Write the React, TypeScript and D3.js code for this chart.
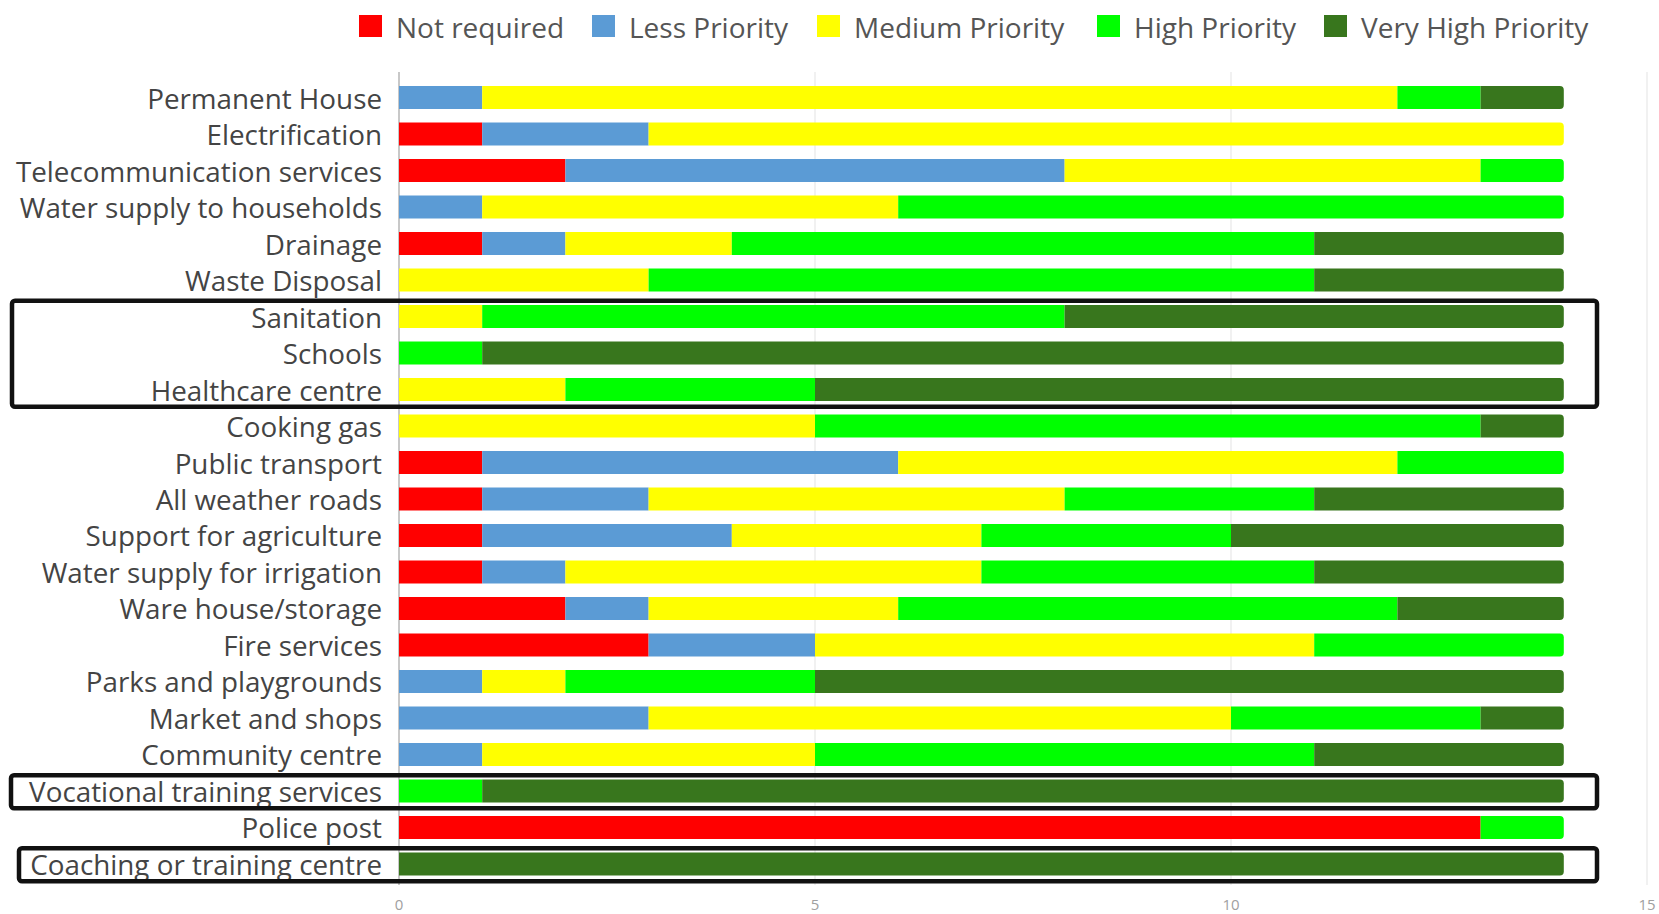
import React from "react";
import * as d3 from "d3";

const categories = [
  "Permanent House",
  "Electrification",
  "Telecommunication services",
  "Water supply to households",
  "Drainage",
  "Waste Disposal",
  "Sanitation",
  "Schools",
  "Healthcare centre",
  "Cooking gas",
  "Public transport",
  "All weather roads",
  "Support for agriculture",
  "Water supply for irrigation",
  "Ware house/storage",
  "Fire services",
  "Parks and playgrounds",
  "Market and shops",
  "Community centre",
  "Vocational training services",
  "Police post",
  "Coaching or training centre",
];

const seriesNames = ["Not required", "Less Priority", "Medium Priority", "High Priority", "Very High Priority"];
const seriesColors = ["#ff0000", "#5b9bd5", "#ffff00", "#00ff00", "#38761d"];

const notRequired = [0, 1, 2, 0, 1, 0, 0, 0, 0, 0, 1, 1, 1, 1, 2, 3, 0, 0, 0, 0, 13, 0];
const lessPriority = [1, 2, 6, 1, 1, 0, 0, 0, 0, 0, 5, 2, 3, 1, 1, 2, 1, 3, 1, 0, 0, 0];
const mediumPriority = [11, 11, 5, 5, 2, 3, 1, 0, 2, 5, 6, 5, 3, 5, 3, 6, 1, 7, 4, 0, 0, 0];
const highPriority = [1, 0, 1, 8, 7, 8, 7, 1, 3, 8, 2, 3, 3, 4, 6, 3, 3, 3, 6, 1, 1, 0];
const veryHighPriority = [1, 0, 0, 0, 3, 3, 6, 13, 9, 1, 0, 3, 4, 3, 2, 0, 9, 1, 3, 13, 0, 14];

const xTicks = [0, 5, 10, 15];

// highlighted groups of categories (annotation boxes)
const highlightGroups = [
  ["Sanitation", "Schools", "Healthcare centre"],
  ["Vocational training services"],
  ["Coaching or training centre"],
];
const highlightLeft = [12, 11, 19];

const W = 1659;
const H = 914;

function roundedRight(x: number, y: number, w: number, h: number, r: number) {
  const rr = Math.min(r, w / 2, h / 2);
  return `M${x},${y}H${x + w - rr}Q${x + w},${y} ${x + w},${y + rr}V${y + h - rr}Q${x + w},${y + h} ${x + w - rr},${y + h}H${x}Z`;
}

export default function App() {
  const series = [notRequired, lessPriority, mediumPriority, highPriority, veryHighPriority];
  const x = d3.scaleLinear().domain([0, 15]).range([399, 1647]);
  const y = d3.scaleBand<string>().domain(categories).range([72.5, 889]).padding(0.37);
  const bw = y.bandwidth();
  const font = "'Open Sans', 'Noto Sans', sans-serif";

  const legendX = [359, 592, 817, 1097, 1324];

  return (
    <svg width={W} height={H} style={{ position: "absolute", left: 0, top: 0, background: "#fff" }}>
      {/* legend */}
      {seriesNames.map((n, i) => (
        <g key={n}>
          <rect x={legendX[i]} y={15} width={23} height={22} fill={seriesColors[i]} />
          <text x={legendX[i] + 37} y={27} dominantBaseline="central" fontFamily={font} fontSize={28} fill="#555">
            {n}
          </text>
        </g>
      ))}
      {/* grid */}
      {xTicks.map((t) => (
        <line key={t} x1={x(t)} x2={x(t)} y1={72} y2={885} stroke={t === 0 ? "#c8c8c8" : "#ececec"} strokeWidth={t === 0 ? 2 : 1.5} />
      ))}
      {xTicks.map((t) => (
        <text key={"t" + t} x={x(t)} y={904} textAnchor="middle" dominantBaseline="central" fontFamily={font} fontSize={15} fill="#a0a0a0">
          {t}
        </text>
      ))}
      {/* bars */}
      {categories.map((c, ci) => {
        const y0 = y(c)!;
        let acc = 0;
        const vals = series.map((s) => s[ci]);
        let lastIdx = -1;
        vals.forEach((v, k) => {
          if (v > 0) lastIdx = k;
        });
        return (
          <g key={c}>
            {vals.map((v, k) => {
              if (v <= 0) return null;
              const x0 = x(acc);
              acc += v;
              const x1 = x(acc);
              if (k === lastIdx) {
                return <path key={k} d={roundedRight(x0, y0, x1 - x0, bw, 4)} fill={seriesColors[k]} />;
              }
              return <rect key={k} x={x0} y={y0} width={x1 - x0} height={bw} fill={seriesColors[k]} />;
            })}
            <text x={382} y={y0 + bw / 2} textAnchor="end" dominantBaseline="central" fontFamily={font} fontSize={27.8} fill="#444">
              {c}
            </text>
          </g>
        );
      })}
      {/* highlight boxes */}
      {highlightGroups.map((g, gi) => {
        const first = y(g[0])!;
        const last = y(g[g.length - 1])! + bw;
        const pad = (y.step() - bw) / 2;
        const top = first - pad + 2.5;
        const bottom = last + pad - 1;
        return (
          <rect
            key={gi}
            x={highlightLeft[gi]}
            y={top}
            width={1597 - highlightLeft[gi]}
            height={bottom - top}
            rx={3}
            fill="none"
            stroke="#111"
            strokeWidth={4.5}
          />
        );
      })}
    </svg>
  );
}
